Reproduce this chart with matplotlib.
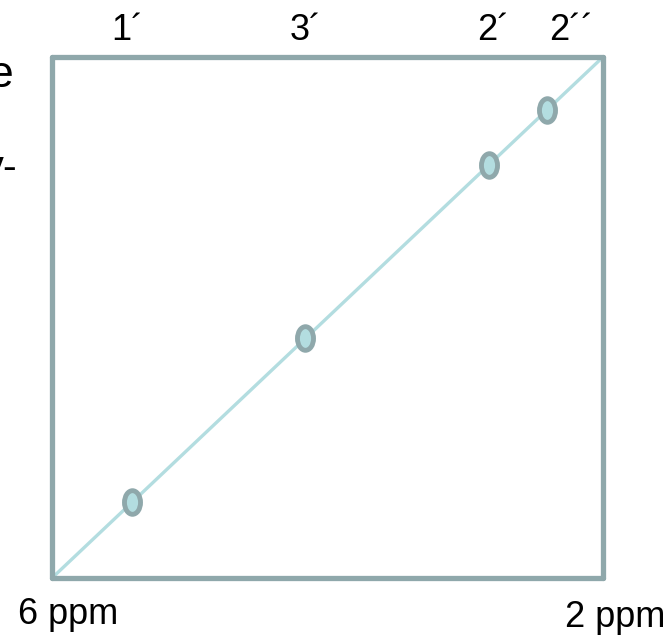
import matplotlib
matplotlib.use("Agg")
import matplotlib.pyplot as plt
import numpy as np
from matplotlib.path import Path

plt.rcParams['font.family'] = ['Liberation Sans', 'DejaVu Sans']

# data (ppm)
labels = ["1´", "3´", "2´", "2´´"]
shifts = [5.42, 4.16, 2.83, 2.41]
label_x = [5.45, 4.16, 2.80, 2.23]
axis_min_label = "6 ppm"
axis_max_label = "2 ppm"

frame_col = "#8fa8ab"
line_col = "#b3dde0"

W, H = 667, 639
fig = plt.figure(figsize=(W/100, H/100), dpi=100)
ax = fig.add_axes([52/W, (H-578)/H, 551/W, 521/H])
ax.set_xlim(6, 2)
ax.set_ylim(6, 2)
ax.set_xticks([]); ax.set_yticks([])
for s in ax.spines.values():
    s.set_color(frame_col)
    s.set_linewidth(3.8)
    s.set_capstyle('round')

ax.plot([6, 2], [6, 2], color=line_col, lw=2.4, solid_capstyle='round', zorder=2)

circ = Path.unit_circle()
ell = Path(circ.vertices * np.array([0.68, 1.0]), circ.codes)
ax.plot(shifts, shifts, linestyle='none', marker=ell, markersize=17,
        markerfacecolor=line_col, markeredgecolor=frame_col, markeredgewidth=3.5, zorder=3)

fs = 26
for lx, lab in zip(label_x, labels):
    x_disp = ax.transData.transform((lx, 4))[0]
    fig.text(x_disp / W, 1 - 40/H, lab, ha='center', va='baseline',
             fontsize=fs, color='black')

fig.text(18/W, 1 - 624/H, axis_min_label, ha='left', va='baseline', fontsize=fs)
fig.text(665/W, 1 - 627/H, axis_max_label, ha='right', va='baseline', fontsize=fs)
fig.text(13/W, 1 - 87/H, "e", ha='right', va='baseline', fontsize=32)
fig.text(18/W, 1 - 180/H, "y-", ha='right', va='baseline', fontsize=30)

fig.savefig("out.png", dpi=100)
